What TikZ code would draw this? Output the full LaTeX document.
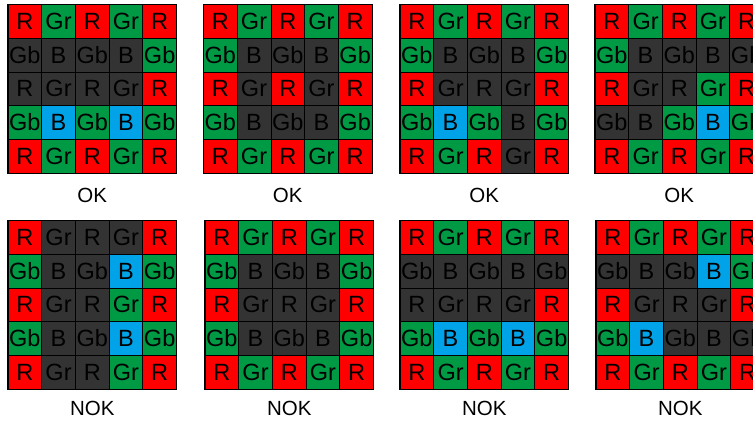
\documentclass[tikz,border=0pt]{standalone}
\usepackage{fontspec}
\setmainfont{Liberation Sans}
\definecolor{cR}{RGB}{255,0,0}
\definecolor{cG}{RGB}{0,153,68}
\definecolor{cB}{RGB}{0,162,232}
\definecolor{cD}{RGB}{51,51,51}
\tikzset{
  cell/.style={draw=black, line width=0.7pt, minimum size=33.7pt, inner sep=0pt,
    font=\fontsize{23.5}{23.5}\selectfont, text=black},
  gridframe/.style={draw=black, line width=1.2pt},
  verdict/.style={font=\fontsize{20.5}{20.5}\selectfont, anchor=base, inner sep=0pt, text=black}
}
\newcommand\bayergrid[6]{%
  \foreach \col [count=\i from 0] in {#4} {
    \pgfmathtruncatemacro\rr{floor(\i/5)}
    \pgfmathtruncatemacro\cc{mod(\i,5)}
    \pgfmathtruncatemacro\kk{2*mod(\rr,2)+mod(\cc,2)}
    \node[cell, fill=c\col] (#1-\rr-\cc) at ({#2+\cc*33.7+16.85},{#3+\rr*33.7+16.85})
      {\ifcase\kk R\or Gr\or Gb\or B\fi};
  }
  \draw[gridframe] (#1-0-0.north west) rectangle (#1-4-4.south east);
  \node[verdict] (#1-verdict) at ({#2+84.25},#6) {#5};
}
\begin{document}
\begin{tikzpicture}[x=1pt, y=-1pt]
  \useasboundingbox (0,0) rectangle (753,421);
  \clip (0,0) rectangle (753,421);
  % top row (OK)
  \bayergrid{ga}{8}{4.5}{R,G,R,G,R, D,D,D,D,G, D,D,D,D,R, G,B,G,B,G, R,G,R,G,R}{OK}{202.7}
  \bayergrid{gb}{203.5}{4.5}{R,G,R,G,R, G,D,D,D,G, R,D,R,D,R, G,D,D,D,G, R,G,R,G,R}{OK}{202.7}
  \bayergrid{gc}{400}{4.5}{R,G,R,G,R, G,D,D,D,G, R,D,D,D,R, G,B,G,D,G, R,G,R,D,R}{OK}{202.7}
  \bayergrid{gd}{595}{4.5}{R,G,R,G,R, G,D,D,D,D, R,D,D,G,R, D,D,G,B,G, R,G,R,G,R}{OK}{202.7}
  % bottom row (NOK)
  \bayergrid{ge}{8}{220.5}{R,D,D,D,R, G,D,D,B,G, R,D,D,G,R, G,D,D,B,G, R,D,D,G,R}{NOK}{415}
  \bayergrid{gf}{205}{220.5}{R,G,R,G,R, G,D,D,D,G, R,D,D,D,R, G,D,D,D,G, R,G,R,G,R}{NOK}{415}
  \bayergrid{gg}{400}{220.5}{R,G,R,G,R, D,D,D,D,D, D,D,D,D,R, G,B,G,B,G, R,G,R,G,R}{NOK}{415}
  \bayergrid{gh}{596}{220.5}{R,G,R,G,R, D,D,D,B,G, R,D,D,D,R, G,B,D,D,D, R,G,R,G,R}{NOK}{415}
\end{tikzpicture}
\end{document}
